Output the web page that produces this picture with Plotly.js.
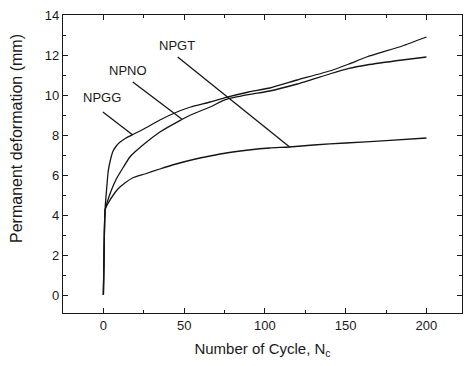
<!DOCTYPE html>
<html>
<head>
<meta charset="utf-8">
<script src="https://cdn.plot.ly/plotly-3.0.1.min.js"></script>
<style>html,body{margin:0;padding:0;background:#fff;}#chart{width:464px;height:366px;}</style>
</head>
<body>
<div id="chart"></div>
<script>
// Series (Number of cycles vs permanent deformation, mm)
const npggX = [0, 0.5, 0.8, 1.2, 2, 3, 4.5, 6, 8, 10, 14, 18, 25, 35, 47, 54, 66, 76, 90, 103, 120, 140, 152, 163, 185, 200];
const npggY = [0, 2.5, 3.8, 4.5, 5.3, 6.2, 6.8, 7.2, 7.45, 7.62, 7.85, 8.02, 8.3, 8.75, 9.2, 9.4, 9.65, 9.88, 10.15, 10.35, 10.75, 11.2, 11.55, 11.9, 12.45, 12.9];

const npnoX = [0, 0.5, 0.8, 1.2, 3, 5, 8, 11.3, 16.4, 20.5, 26, 35, 47.3, 54, 66, 76, 90, 103, 120, 140, 152, 163, 185, 200];
const npnoY = [0, 2.5, 3.8, 4.3, 4.8, 5.25, 5.8, 6.25, 6.9, 7.22, 7.6, 8.15, 8.72, 9.0, 9.4, 9.78, 10.02, 10.2, 10.55, 11.05, 11.33, 11.5, 11.75, 11.9];

const npgtX = [0, 0.5, 0.8, 1.2, 3, 7, 9, 13.3, 18, 25.7, 35, 45, 57, 66, 76, 90, 103, 115, 130, 150, 175, 200];
const npgtY = [0, 2.5, 3.8, 4.3, 4.6, 5.1, 5.3, 5.6, 5.85, 6.05, 6.3, 6.55, 6.8, 6.95, 7.1, 7.25, 7.35, 7.4, 7.5, 7.6, 7.72, 7.85];

// Curve labels and their pointer lines
const labelNames = ["NPGG", "NPNO", "NPGT"];
const labelX = [-0.9, 15.1, 45.5];
const labelY = [9.9, 11.25, 12.5];
const pointerFromX = [-0.3, 18.2, 46];
const pointerFromY = [9.15, 10.65, 11.9];
const pointerToX = [18.2, 48.5, 115.3];
const pointerToY = [8.0, 8.8, 7.4];

const xTickVals = [0, 50, 100, 150, 200];
const yTickVals = [0, 2, 4, 6, 8, 10, 12, 14];
const xTitle = "Number of Cycle, N<sub>c</sub>";
const yTitle = "Permanent deformation (mm)";

const lineStyle = {color: "#151515", width: 1.3, shape: "spline", smoothing: 0.5};
const traces = [
  {x: npggX, y: npggY, name: "NPGG", mode: "lines", line: lineStyle},
  {x: npnoX, y: npnoY, name: "NPNO", mode: "lines", line: lineStyle},
  {x: npgtX, y: npgtY, name: "NPGT", mode: "lines", line: lineStyle}
];

const font = {family: "Liberation Sans, Arial, sans-serif", color: "#1a1a1a"};

const annotations = labelNames.map((t, i) => ({
  x: labelX[i], y: labelY[i], xref: "x", yref: "y", text: t, showarrow: false,
  font: Object.assign({}, font, {size: 13})
}));
annotations.push({
  xref: "paper", yref: "paper", x: -0.118, y: 0.587, xanchor: "center", yanchor: "middle",
  text: yTitle, textangle: -90, showarrow: false,
  font: Object.assign({}, font, {size: 16})
});
const shapes = labelNames.map((t, i) => ({
  type: "line", xref: "x", yref: "y",
  x0: pointerFromX[i], y0: pointerFromY[i], x1: pointerToX[i], y1: pointerToY[i],
  line: {color: "#151515", width: 1.3}
}));

const axisCommon = {
  showline: true, linecolor: "#1a1a1a", linewidth: 1.2, mirror: "allticks",
  ticks: "inside", ticklen: 5, tickwidth: 1, tickcolor: "#1a1a1a",
  showgrid: false, zeroline: false,
  tickfont: Object.assign({}, font, {size: 13})
};

const layout = {
  width: 464, height: 366,
  margin: {l: 63, r: 2, t: 15, b: 53},
  paper_bgcolor: "#fff", plot_bgcolor: "#fff",
  showlegend: false,
  xaxis: Object.assign({}, axisCommon, {
    range: [-25, 222], tickvals: xTickVals,
    minor: {dtick: 25, tick0: 25, ticks: "inside", ticklen: 3, tickcolor: "#1a1a1a"},
    title: {text: xTitle, font: Object.assign({}, font, {size: 15}), standoff: 11}
  }),
  yaxis: Object.assign({}, axisCommon, {
    range: [-0.9, 14], tickvals: yTickVals,
    minor: {dtick: 1, tick0: 0, ticks: "inside", ticklen: 3, tickcolor: "#1a1a1a"}
  }),
  annotations: annotations,
  shapes: shapes
};

Plotly.newPlot("chart", traces, layout, {displayModeBar: false, staticPlot: true});
</script>
</body>
</html>
